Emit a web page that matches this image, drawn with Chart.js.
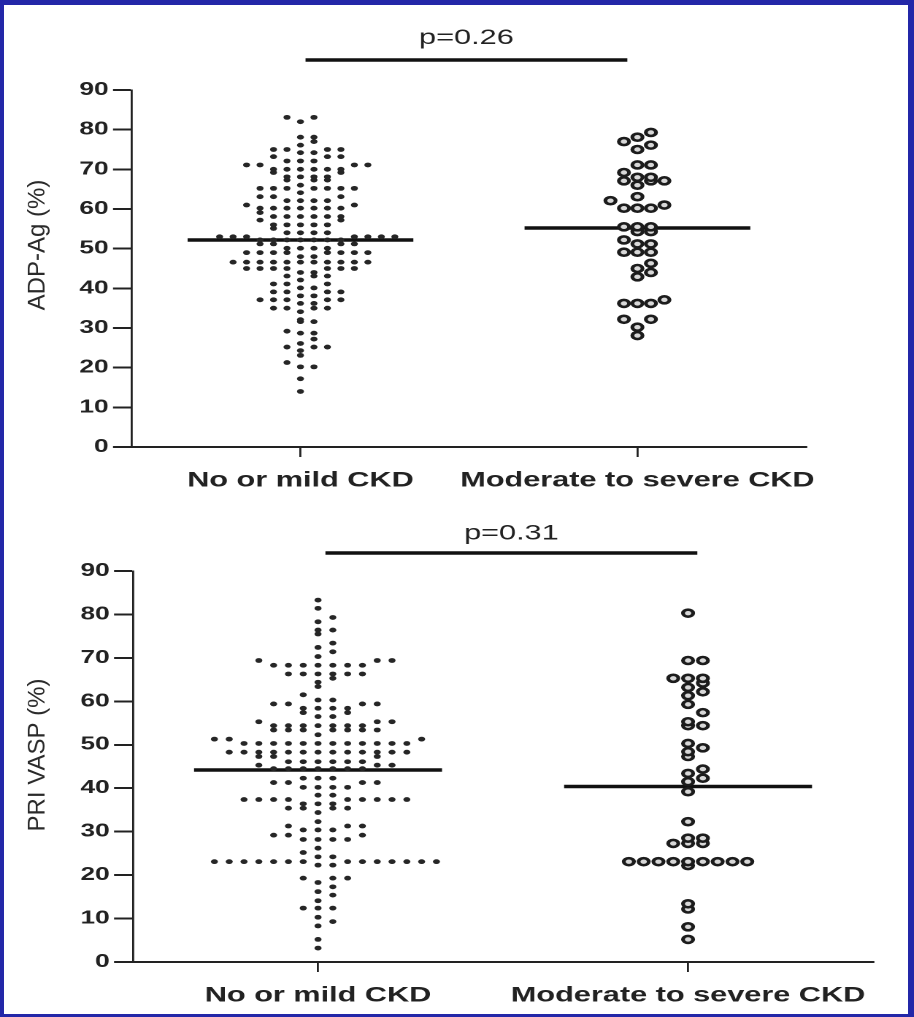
<!DOCTYPE html>
<html>
<head>
<meta charset="utf-8">
<script src="https://cdn.jsdelivr.net/npm/chart.js@4.4.1/dist/chart.umd.min.js"></script>
<style>
  html, body { margin: 0; padding: 0; background: #fff; }
  #frame { position: relative; width: 914px; height: 1017px; overflow: hidden; background: #fff; }
  #border { position: absolute; left: 0; top: 0; width: 914px; height: 1017px; box-sizing: border-box;
            border-style: solid; border-color: #2327a8; border-width: 5px 6px 3px 4px; z-index: 2; }
  /* the source figure is stretched sideways, so each panel is drawn narrow and widened */
  .panel { position: absolute; left: 0; width: 626px; transform: scaleX(1.46); transform-origin: 0 0; }
</style>
</head>
<body>
<div id="frame">
  <div class="panel" style="top:0; height:505px"><canvas id="adp"></canvas></div>
  <div class="panel" style="top:505px; height:512px"><canvas id="vasp"></canvas></div>
  <div id="border"></div>
</div>
<script>
// groups on the x axis
const groups = ['No or mild CKD', 'Moderate to severe CKD'];
const yTicks = [0, 10, 20, 30, 40, 50, 60, 70, 80, 90];

// ADP-Ag (%) per patient
const adpMild = [
  83.1, 83.1, 82.0, 78.1, 78.1, 77.0, 76.1,
  75.0, 75.0, 75.0, 75.0, 74.2, 74.2, 73.2, 73.2, 73.2,
  72.1, 72.1, 72.1, 71.1, 71.1, 71.1, 71.1,
  70.0, 70.0, 70.0, 70.0, 70.0, 70.0, 69.2, 69.2,
  68.1, 68.1, 68.1, 68.1, 67.3, 67.3, 67.3, 66.0,
  65.2, 65.2, 65.2, 65.2, 65.2, 65.2, 65.2, 64.1,
  63.1, 63.1, 63.1, 62.1, 62.1, 62.1, 62.1, 61.0, 61.0,
  60.2, 60.2, 60.2, 60.2, 60.2, 60.2, 60.2, 59.1,
  58.1, 58.1, 58.1, 58.1, 58.1, 58.1, 57.2, 57.2,
  56.0, 56.0, 56.0, 56.0, 56.0, 55.1, 54.0, 54.0, 54.0, 54.0,
  53.0, 53.0, 53.0, 53.0, 53.0, 53.0, 53.0,
  52.2, 52.2, 52.2, 52.2, 52.2, 52.2, 52.2,
  51.2, 51.2, 51.2, 51.2, 50.1, 50.1, 50.1, 50.1,
  49.0, 49.0, 49.0, 49.0, 49.0, 49.0, 49.0, 49.0, 48.0, 48.0,
  46.6, 46.6, 46.6, 46.6, 46.6, 46.6, 46.6, 46.6, 46.6, 46.6, 46.6,
  45.0, 45.0, 45.0, 45.0, 45.0, 45.0, 45.0, 44.0, 44.0,
  43.1, 43.1, 43.1, 42.1, 41.1, 41.1, 41.1, 40.1, 40.1,
  39.1, 39.1, 39.1, 39.1, 38.1, 38.1, 37.1, 37.1, 37.1, 37.1, 37.1,
  36.2, 36.2, 35.0, 35.0, 35.0, 35.0, 34.1,
  32.1, 31.6, 31.6, 29.2, 28.7, 28.7, 27.2, 26.1,
  25.2, 25.2, 25.2, 24.3, 23.1, 21.3, 20.2, 20.2, 17.2, 14.0
];
const adpSevere = [
  79.3, 78.1, 77.0, 76.1, 75.0, 71.1, 71.1, 69.2, 68.0, 68.0,
  67.1, 67.1, 67.1, 66.0, 63.1, 62.1, 61.0, 60.2, 60.2, 60.2,
  55.5, 55.5, 55.5, 54.3, 54.3, 52.2, 51.2, 51.2, 49.1, 49.1, 49.1,
  46.3, 45.0, 44.0, 42.9, 37.1, 36.2, 36.2, 36.2, 32.2, 32.2, 30.2, 28.1
];
const adpLines = [52.2, 55.2];

// PRI VASP (%) per patient
const vaspMild = [
  83.3, 81.4, 79.3, 78.3, 76.4, 76.4, 75.5, 73.4, 72.4, 71.4, 70.3,
  69.4, 69.4, 69.4, 68.3, 68.3, 68.3, 68.3, 68.3, 68.3, 68.3,
  66.3, 66.3, 66.3, 66.3, 66.3, 66.3, 65.3, 64.4, 63.4, 61.5, 60.3, 60.3,
  59.4, 59.4, 59.4, 59.4, 58.4, 58.4, 58.4, 58.4, 57.4, 57.4, 56.5, 56.5,
  55.3, 55.3, 55.3, 54.4, 54.4, 54.4, 54.4, 54.4, 54.4, 54.4,
  53.4, 53.4, 53.4, 53.4, 53.4, 53.4, 53.4, 52.3, 51.3, 51.3, 51.3,
  50.3, 50.3, 50.3, 50.3, 50.3, 50.3, 50.3, 50.3, 50.3, 50.3, 50.3, 50.3,
  48.3, 48.3, 48.3, 48.3, 48.3, 48.3, 48.3, 48.3, 48.3, 48.3, 48.3, 48.3, 48.3,
  47.3, 47.3, 47.3, 46.1, 46.1, 46.1, 46.1, 46.1, 46.1, 45.3, 45.3, 45.3,
  44.5, 44.5, 44.5, 44.5, 44.5, 44.5, 44.5, 42.3, 42.3, 42.3,
  41.3, 41.3, 41.3, 41.3, 40.2, 40.2, 40.2, 40.2, 38.4, 38.4,
  37.4, 37.4, 37.4, 37.4, 37.4, 37.4, 37.4, 37.4, 37.4, 36.4, 36.4, 36.4,
  35.4, 35.4, 35.4, 35.4, 34.4, 32.3, 31.3, 31.3, 31.3, 30.4, 30.4, 30.4,
  29.2, 29.2, 29.2, 28.2, 28.2, 28.2, 28.2, 26.2, 25.2, 24.2, 24.2,
  23.1, 23.1, 23.1, 23.1, 23.1, 23.1, 23.1, 23.1, 23.1, 23.1, 23.1, 23.1, 23.1, 23.1,
  22.3, 22.3, 19.3, 19.3, 19.3, 18.3, 17.3, 16.2, 15.4, 14.1,
  12.4, 12.4, 12.4, 10.3, 9.3, 8.3, 5.2, 3.2
];
const vaspSevere = [
  80.3, 69.4, 69.4, 65.3, 65.3, 65.3, 64.2, 63.2, 62.2, 61.3, 59.3, 57.4,
  55.3, 54.4, 54.4, 50.3, 49.3, 48.4, 47.3, 44.4, 43.4, 42.3, 41.5, 39.2,
  32.3, 28.5, 28.5, 27.3, 27.3, 27.3,
  23.1, 23.1, 23.1, 23.1, 23.1, 23.1, 23.1, 23.1, 23.1, 22.2,
  13.4, 12.2, 8.1, 5.2
];
const vaspLines = [44.2, 40.4];

const STRETCH = 1.46;
const FONT = '"Liberation Sans", Arial, sans-serif';
const INK = '#222';

// GraphPad-style column scatter: rows of close values fan out sideways
function dotColumn(values, center, binH, slotW) {
  const rows = new Map();
  [...values].sort((a, b) => a - b).forEach(v => {
    const k = Math.floor(v / binH);
    if (!rows.has(k)) rows.set(k, []);
    rows.get(k).push(v);
  });
  const pts = [];
  rows.forEach(row => row.forEach((v, i) => {
    const slot = i === 0 ? 0 : (i % 2 ? (i + 1) / 2 : -i / 2);
    pts.push({ x: center + slot * slotW, y: v });
  }));
  return pts;
}

const overlay = {
  id: 'overlay',
  afterDraw(chart, args, o) {
    const { ctx, chartArea, scales: { x } } = chart;
    const x1 = x.getPixelForValue(o.barFrom), x2 = x.getPixelForValue(o.barTo);
    const barY = chartArea.top - o.barRaise;
    ctx.save();
    ctx.strokeStyle = '#111';
    ctx.lineWidth = 3.5;
    ctx.beginPath();
    ctx.moveTo(x1, barY);
    ctx.lineTo(x2, barY);
    ctx.stroke();
    ctx.fillStyle = INK;
    ctx.font = '21px ' + FONT;
    ctx.textAlign = 'center';
    ctx.textBaseline = 'middle';
    ctx.fillText(o.pText, (x1 + x2) / 2, barY - o.textRaise);
    // axis title: undo the panel stretch so it keeps natural proportions
    ctx.translate(o.titleX, o.titleY);
    ctx.scale(1 / STRETCH, 1);
    ctx.rotate(-Math.PI / 2);
    ctx.font = '24px ' + FONT;
    ctx.fillStyle = '#2a2a2a';
    ctx.fillText(o.yTitle, 0, 0);
    ctx.restore();
  }
};

function makePanel(id, p) {
  const meanSet = (m, c) => ({
    data: [{ x: c - 0.67, y: m }, { x: c + 0.67, y: m }],
    showLine: true, borderColor: '#111', borderWidth: 3.5, pointRadius: 0
  });
  new Chart(document.getElementById(id), {
    type: 'scatter',
    data: {
      datasets: [
        { data: dotColumn(p.mild, 1, 2, 0.08), pointRadius: 2.4, pointBorderWidth: 0,
          pointBackgroundColor: '#262626' },
        { data: dotColumn(p.severe, 3, 2.5, 0.08), pointRadius: 3.5, pointBorderWidth: 2.6,
          pointBorderColor: '#1c1c1c', pointBackgroundColor: '#d8d8d8' },
        meanSet(p.lines[0], 1),
        meanSet(p.lines[1], 3)
      ]
    },
    options: {
      responsive: true,
      maintainAspectRatio: false,
      devicePixelRatio: 2,
      animation: false,
      events: [],
      layout: { padding: { left: 0, top: p.padTop, right: p.padRight, bottom: 0 } },
      scales: {
        x: {
          type: 'linear', min: 0, max: 4,
          afterBuildTicks: s => { s.ticks = groups.map((g, i) => ({ value: 1 + 2 * i })); },
          afterFit: s => { s.height = p.xHeight; },
          ticks: { callback: v => groups[(v - 1) / 2], color: INK, padding: 11, maxRotation: 0,
                   autoSkip: false, font: { family: FONT, size: 21, weight: 'bold' } },
          grid: { drawOnChartArea: false, tickLength: 10, color: INK, lineWidth: 1.4 },
          border: { color: INK, width: 2 }
        },
        y: {
          min: 0, max: 90,
          afterBuildTicks: s => { s.ticks = yTicks.map(v => ({ value: v })); },
          afterFit: s => { s.width = p.yWidth; },
          ticks: { color: INK, padding: 3, font: { family: FONT, size: 18, weight: 'bold' } },
          grid: { drawOnChartArea: false, tickLength: 13, color: INK, lineWidth: 2 },
          border: { color: INK, width: 1.4 }
        }
      },
      plugins: {
        legend: { display: false },
        tooltip: { enabled: false },
        overlay: p.overlay
      }
    },
    plugins: [overlay]
  });
}

makePanel('adp', {
  mild: adpMild, severe: adpSevere, lines: adpLines,
  padTop: 90, padRight: 74, yWidth: 90.4, xHeight: 58,
  overlay: { pText: 'p=0.26', barFrom: 1.03, barTo: 2.94, barRaise: 30, textRaise: 22,
             yTitle: 'ADP-Ag (%)', titleX: 26, titleY: 245 }
});
makePanel('vasp', {
  mild: vaspMild, severe: vaspSevere, lines: vaspLines,
  padTop: 66, padRight: 28, yWidth: 91.1, xHeight: 55,
  overlay: { pText: 'p=0.31', barFrom: 1.04, barTo: 3.05, barRaise: 18, textRaise: 19.5,
             yTitle: 'PRI VASP (%)', titleX: 26, titleY: 250 }
});
</script>
</body>
</html>
